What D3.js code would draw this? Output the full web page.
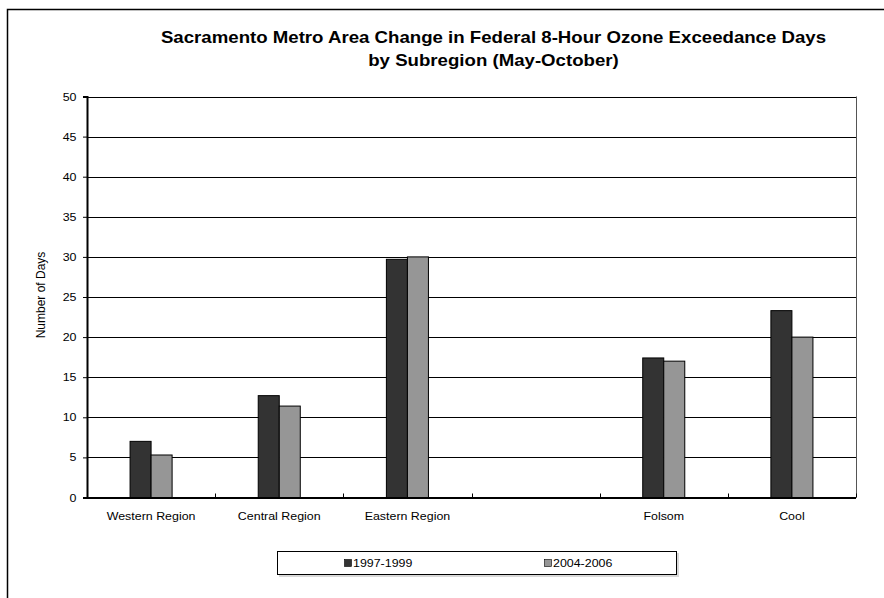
<!DOCTYPE html>
<html>
<head>
<meta charset="utf-8">
<script src="https://cdn.jsdelivr.net/npm/d3@7"></script>
<style>
  html, body { margin: 0; padding: 0; background: #fff; }
  svg { display: block; font-family: "Liberation Sans", Arial, sans-serif; }
</style>
</head>
<body>
<svg id="chart" width="884" height="598"></svg>
<script>
// Subregions (one blank slot separates the regions from the individual sites)
const categories = ["Western Region", "Central Region", "Eastern Region", "", "Folsom", "Cool"];
const seriesNames = ["1997-1999", "2004-2006"];
const days1997 = [7.0, 12.7, 29.7, null, 17.4, 23.3];
const days2004 = [5.3, 11.4, 30.0, null, 17.0, 20.0];
const yTicks = [0, 5, 10, 15, 20, 25, 30, 35, 40, 45, 50];
const titleLines = [
  "Sacramento Metro Area Change in Federal 8-Hour Ozone Exceedance Days",
  "by Subregion (May-October)"
];
const colors = ["#333333", "#969696"];

// horizontal text is drawn slightly widened
const SX = 1.13;
const place = (x, y) => `translate(${x},${y}) scale(${SX},1)`;

const svg = d3.select("#chart");

// outer frame (top and left edges visible)
svg.append("path")
  .attr("d", "M7.5,598 L7.5,9.5 L884,9.5")
  .attr("fill", "none").attr("stroke", "#000").attr("stroke-width", 1.5);

const plot = { left: 87, right: 856, top: 96.5, bottom: 497.5 };

const x = d3.scaleBand()
  .domain(d3.range(categories.length))
  .range([plot.left, plot.right])
  .paddingInner(0).paddingOuter(0);

const y = d3.scaleLinear().domain([0, 50]).range([plot.bottom, plot.top]);

const barW = x.bandwidth() * 0.164;

// title
svg.append("g").selectAll("text")
  .data(titleLines).join("text")
  .attr("transform", (d, i) => place(493.5, 43 + i * 23))
  .attr("text-anchor", "middle")
  .attr("font-size", "16.5px")
  .attr("font-weight", "bold")
  .attr("fill", "#000")
  .text(d => d);

// horizontal gridlines
svg.append("g").selectAll("line")
  .data(yTicks.filter(t => t > 0)).join("line")
  .attr("x1", plot.left).attr("x2", plot.right)
  .attr("y1", d => Math.round(y(d)) + 0.5).attr("y2", d => Math.round(y(d)) + 0.5)
  .attr("stroke", "#000").attr("stroke-width", 1);

// right edge of the plot area
svg.append("line")
  .attr("x1", plot.right + 0.5).attr("x2", plot.right + 0.5)
  .attr("y1", plot.top).attr("y2", plot.bottom)
  .attr("stroke", "#555").attr("stroke-width", 1);

// y axis
const yAxis = d3.axisLeft(y).tickValues(yTicks).tickSize(4).tickPadding(7);
const gy = svg.append("g").attr("transform", `translate(${plot.left},0)`).call(yAxis);
gy.select(".domain").attr("stroke", "#000").attr("stroke-width", 2);
gy.selectAll(".tick line").attr("stroke", "#000");
gy.selectAll(".tick text")
  .attr("x", 0)
  .attr("transform", place(-10.5, 0))
  .attr("font-size", "11px").attr("fill", "#000")
  .attr("font-family", "Liberation Sans, Arial, sans-serif");

// x axis: ticks at category boundaries
const bounds = d3.range(categories.length + 1).map(i => plot.left + i * x.step());
svg.append("line")
  .attr("x1", plot.left - 1).attr("x2", plot.right)
  .attr("y1", plot.bottom + 0.5).attr("y2", plot.bottom + 0.5)
  .attr("stroke", "#000").attr("stroke-width", 2);
svg.append("g").selectAll("line")
  .data(bounds.slice(1)).join("line")
  .attr("x1", d => Math.round(d) + 0.5).attr("x2", d => Math.round(d) + 0.5)
  .attr("y1", plot.bottom - 4).attr("y2", plot.bottom)
  .attr("stroke", "#000");

svg.append("g").selectAll("text")
  .data(categories).join("text")
  .attr("transform", (d, i) => place(x(i) + x.bandwidth() / 2, 520))
  .attr("text-anchor", "middle")
  .attr("font-size", "11px")
  .attr("fill", "#000")
  .text(d => d);

// y axis title
svg.append("text")
  .attr("transform", `translate(45,${(plot.top + plot.bottom) / 2 - 2}) rotate(-90) scale(1,${SX})`)
  .attr("text-anchor", "middle")
  .attr("font-size", "12px")
  .attr("fill", "#000")
  .text("Number of Days");

// bars
const series = [days1997, days2004];
series.forEach((vals, s) => {
  svg.append("g").selectAll("rect")
    .data(vals.map((v, i) => ({ v, i })).filter(d => d.v !== null))
    .join("rect")
    .attr("x", d => x(d.i) + x.bandwidth() / 2 - barW + s * barW)
    .attr("y", d => y(d.v))
    .attr("width", barW)
    .attr("height", d => y(0) - y(d.v))
    .attr("fill", colors[s])
    .attr("stroke", "#000")
    .attr("stroke-width", 1);
});

// legend
const lg = svg.append("g");
lg.append("rect").attr("x", 279).attr("y", 553).attr("width", 400).attr("height", 24).attr("fill", "#d8d8d8");
lg.append("rect").attr("x", 277.5).attr("y", 551.5).attr("width", 399).attr("height", 23)
  .attr("fill", "#fff").attr("stroke", "#000").attr("stroke-width", 1);
const legendX = [344, 544];
seriesNames.forEach((name, s) => {
  lg.append("rect").attr("x", legendX[s] + 0.5).attr("y", 559.5).attr("width", 7).attr("height", 7)
    .attr("fill", colors[s]).attr("stroke", "#000").attr("stroke-width", 0.6);
  lg.append("text").attr("transform", place(legendX[s] + 9, 567))
    .attr("font-size", "11px").attr("fill", "#000").text(name);
});
</script>
</body>
</html>
